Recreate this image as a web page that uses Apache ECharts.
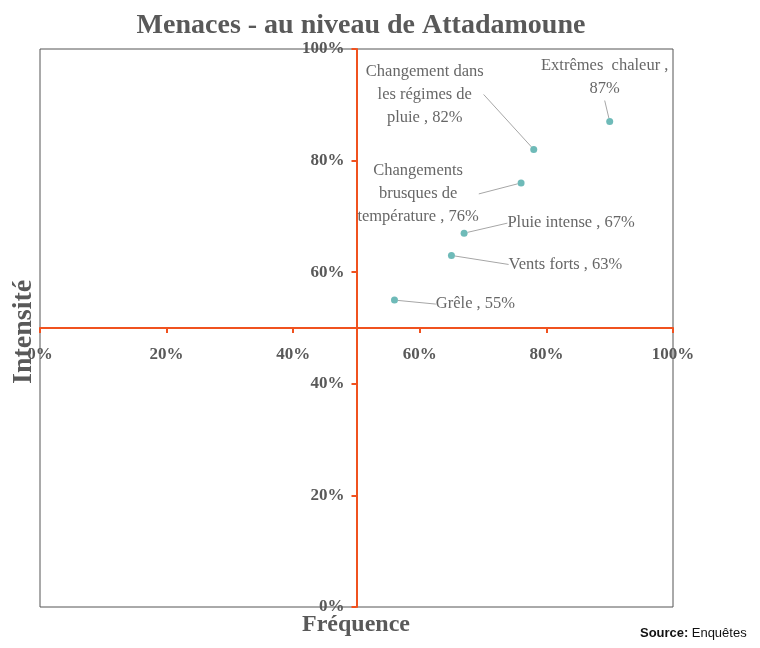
<!DOCTYPE html>
<html>
<head>
<meta charset="utf-8">
<script src="https://cdn.jsdelivr.net/npm/echarts@6/dist/echarts.min.js"></script>
<style>
  html, body { margin: 0; padding: 0; background: #fff; }
  #chart { width: 760px; height: 648px; }
</style>
</head>
<body>
<div id="chart"></div>
<script>
// threat names (point labels)
const names = [
  'Extrêmes  chaleur ,\n87%',
  'Changement dans\nles régimes de\npluie , 82%',
  'Changements\nbrusques de\ntempérature , 76%',
  'Pluie intense , 67%',
  'Vents forts , 63%',
  'Grêle , 55%'
]
// frequence (x) and intensite (y), in %
const frequence = [90, 78, 76, 67, 65, 56]
const intensite = [87, 82, 76, 67, 63, 55]

// label offsets from the point (layout only)
const labelOffsets = [[-5, -44], [-109, -55], [-103, 11], [107, -10], [114, 9], [81, 4]]

const serif = '"Liberation Serif", "DejaVu Serif", serif'
const axisColor = '#F0521F'
const gridLeft = 40, gridTop = 49, gridW = 633, gridH = 558

let chart = echarts.init(document.getElementById('chart'))
chart.setOption({
  animation: false,
  title: [
    {
      text: 'Menaces - au niveau de Attadamoune',
      left: 356,
      top: 7,
      textAlign: 'center',
      textStyle: { fontFamily: serif, fontSize: 28, fontWeight: 'bold', color: '#595959' }
    }
  ],
  grid: {
    left: gridLeft,
    top: gridTop,
    width: gridW,
    height: gridH,
    show: true,
    borderColor: '#555',
    borderWidth: 1
  },
  xAxis: {
    type: 'value',
    min: 0,
    max: 100,
    interval: 20,
    position: 'bottom',
    offset: -gridH / 2,
    axisLine: { onZero: false, lineStyle: { color: axisColor, width: 2 } },
    axisTick: { show: true, length: 5, lineStyle: { color: axisColor, width: 2 } },
    axisLabel: {
      formatter: '{value}%',
      fontFamily: serif, fontSize: 17, fontWeight: 'bold', color: '#595959', margin: 18
    },
    splitLine: { show: false }
  },
  yAxis: {
    type: 'value',
    min: 0,
    max: 100,
    interval: 20,
    position: 'left',
    offset: -gridW / 2,
    axisLine: { onZero: false, lineStyle: { color: axisColor, width: 2 } },
    axisTick: { show: true, length: 5, lineStyle: { color: axisColor, width: 2 } },
    axisLabel: {
      formatter: '{value}%',
      fontFamily: serif, fontSize: 17, fontWeight: 'bold', color: '#595959', margin: 12
    },
    splitLine: { show: false }
  },
  graphic: [
    {
      type: 'text',
      left: 302,
      top: 613,
      style: { text: 'Fréquence', font: 'bold 24px ' + serif, fill: '#595959' }
    },
    {
      type: 'text',
      x: 10,
      y: 384,
      rotation: Math.PI / 2,
      style: { text: 'Intensité', font: 'bold 28px ' + serif, fill: '#595959' }
    },
    {
      type: 'text',
      left: 640,
      top: 627,
      style: {
        text: '{b|Source:} {n|Enquêtes}',
        rich: {
          b: { fontFamily: '"Liberation Sans", sans-serif', fontSize: 13, fontWeight: 'bold', fill: '#111' },
          n: { fontFamily: '"Liberation Sans", sans-serif', fontSize: 13, fill: '#111' }
        }
      }
    }
  ],
  series: [
    {
      type: 'scatter',
      symbolSize: 7,
      itemStyle: { color: '#4AA9A6' },
      data: frequence.map((x, i) => ({ value: [x, intensite[i]], name: names[i] })),
      label: {
        show: true,
        position: 'inside',
        formatter: p => p.name,
        fontFamily: serif,
        fontSize: 16.5,
        lineHeight: 23,
        color: '#404040',
        align: 'center',
        verticalAlign: 'middle'
      },
      labelLine: {
        show: true,
        lineStyle: { color: '#A6A6A6', width: 1 }
      },
      labelLayout: function (params) {
        const o = labelOffsets[params.dataIndex]
        return { dx: o[0], dy: o[1] }
      }
    }
  ]
})
</script>
</body>
</html>
